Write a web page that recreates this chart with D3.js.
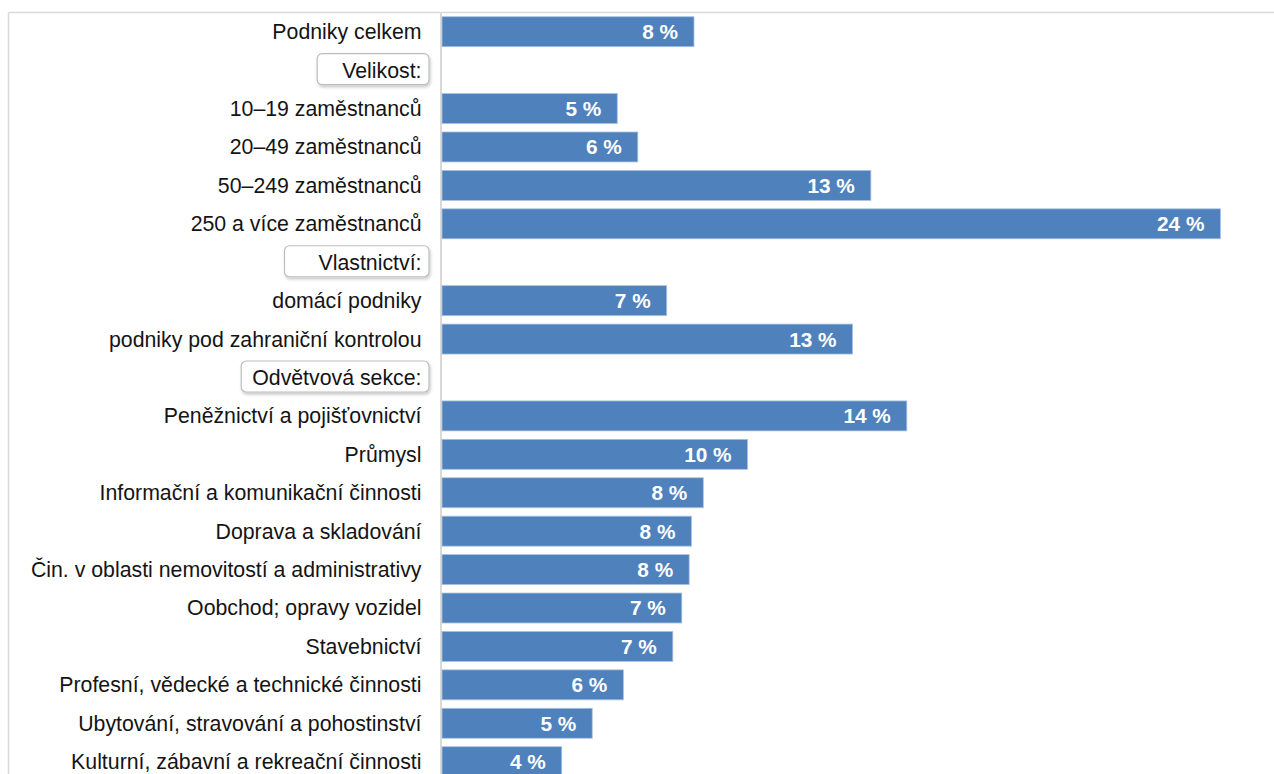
<!DOCTYPE html>
<html>
<head>
<meta charset="utf-8">
<script src="https://cdn.jsdelivr.net/npm/d3@7"></script>
<style>
  html, body { margin: 0; padding: 0; background: #fff; }
  svg { display: block; }
</style>
</head>
<body>
<svg id="chart" width="1274" height="774"></svg>
<script>
// Rows of the chart, top to bottom (group headings have no value)
const categories = [
  "Podniky celkem",
  "Velikost:",
  "10–19 zaměstnanců",
  "20–49 zaměstnanců",
  "50–249 zaměstnanců",
  "250 a více zaměstnanců",
  "Vlastnictví:",
  "domácí podniky",
  "podniky pod zahraniční kontrolou",
  "Odvětvová sekce:",
  "Peněžnictví a pojišťovnictví",
  "Průmysl",
  "Informační a komunikační činnosti",
  "Doprava a skladování",
  "Čin. v oblasti nemovitostí a administrativy",
  "Oobchod; opravy vozidel",
  "Stavebnictví",
  "Profesní, vědecké a technické činnosti",
  "Ubytování, stravování a pohostinství",
  "Kulturní, zábavní a rekreační činnosti"
];

// Share of enterprises, %
const values = [
  7.85, null, 5.46, 6.10, 13.36, 24.25, null, 7.00, 12.79, null,
  14.48, 9.52, 8.14, 7.77, 7.70, 7.47, 7.19, 5.65, 4.68, 3.73
];

const headings = ["Velikost:", "Vlastnictví:", "Odvětvová sekce:"];
// left padding of each heading's framed box
const headingPad = [25, 34, 11];

const rows = categories.map((c, i) => ({ name: c, value: values[i] }));

const svg = d3.select("#chart");
const W = 1274, H = 774;

const axisX = 441;
const x = d3.scaleLinear().domain([0, 25]).range([442, 442 + 802.5]);
const y = d3.scaleBand()
  .domain(categories)
  .range([12.5, 12.5 + 768.4])
  .paddingInner(0.22)
  .paddingOuter(0.11);

const defs = svg.append("defs");
const f = defs.append("filter").attr("id", "boxShadow")
  .attr("x", "-10%").attr("y", "-20%").attr("width", "130%").attr("height", "160%");
f.append("feDropShadow")
  .attr("dx", 1).attr("dy", 2).attr("stdDeviation", 1.6)
  .attr("flood-color", "#000").attr("flood-opacity", 0.22);

// outer frame (top and left edges visible)
svg.append("line").attr("x1", 8.5).attr("x2", W).attr("y1", 12.5).attr("y2", 12.5)
  .attr("stroke", "#d9d9d9").attr("stroke-width", 1.5);
svg.append("line").attr("x1", 8.5).attr("x2", 8.5).attr("y1", 12.5).attr("y2", H)
  .attr("stroke", "#d9d9d9").attr("stroke-width", 1.5);

// category axis
const axis = svg.append("g")
  .attr("transform", `translate(${axisX},0)`)
  .call(d3.axisLeft(y).tickSize(0).tickPadding(19.5));
axis.select(".domain")
  .attr("d", `M0,12.5V${H}`)
  .attr("stroke", "#d9d9d9").attr("stroke-width", 2);
axis.selectAll(".tick text")
  .attr("font-family", "Liberation Sans, Arial, sans-serif")
  .attr("font-size", 21.3)
  .attr("fill", "#141414")
  .attr("dy", "0.35em");

// framed boxes behind group headings
axis.selectAll(".tick")
  .filter(d => headings.includes(d))
  .each(function (d) {
    const g = d3.select(this);
    const t = g.select("text");
    const bb = t.node().getBBox();
    const pad = headingPad[headings.indexOf(d)];
    g.insert("rect", "text")
      .attr("x", bb.x - pad)
      .attr("y", -16.5)
      .attr("width", bb.width + pad + 7.5)
      .attr("height", 31)
      .attr("rx", 5).attr("ry", 5)
      .attr("fill", "#fff")
      .attr("stroke", "#bdbdbd")
      .attr("stroke-width", 1.2)
      .attr("filter", "url(#boxShadow)");
  });

const data = rows.filter(r => r.value !== null);

// bars
svg.append("g").selectAll("rect")
  .data(data)
  .join("rect")
  .attr("x", x(0))
  .attr("y", d => y(d.name))
  .attr("width", d => x(d.value) - x(0))
  .attr("height", y.bandwidth())
  .attr("fill", "#4f81bd")
  .attr("stroke", "#a9c2e0")
  .attr("stroke-width", 0.8);

// value labels inside bar ends
const fmt = d3.format(".0f");
svg.append("g").selectAll("text")
  .data(data)
  .join("text")
  .attr("x", d => x(d.value) - 16)
  .attr("y", d => y(d.name) + y.bandwidth() / 2)
  .attr("dy", "0.36em")
  .attr("text-anchor", "end")
  .attr("font-family", "Liberation Sans, Arial, sans-serif")
  .attr("font-size", 20.8)
  .attr("font-weight", "bold")
  .attr("fill", "#fff")
  .text(d => `${fmt(d.value)} %`);
</script>
</body>
</html>
